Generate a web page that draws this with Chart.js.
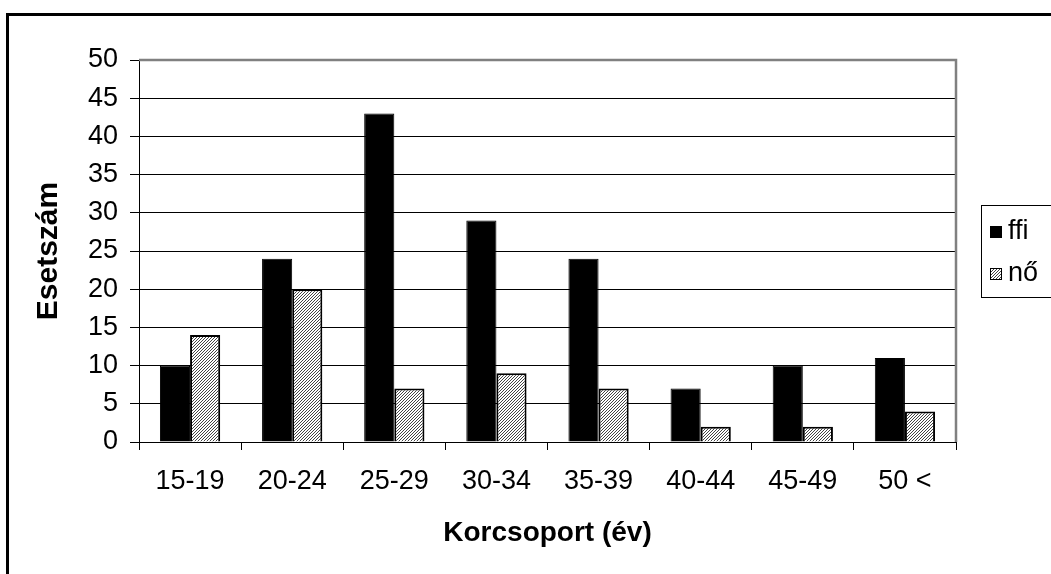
<!DOCTYPE html>
<html>
<head>
<meta charset="utf-8">
<script src="https://cdn.jsdelivr.net/npm/chart.js@4.4.1/dist/chart.umd.min.js"></script>
<style>
  html, body { margin: 0; padding: 0; background: #fff; overflow: hidden; }
  #frame { position: absolute; left: 6px; top: 13px; width: 1100px; height: 620px;
           border-left: 3px solid #000; border-top: 3px solid #000; }
  #wrap { position: absolute; left: 0; top: 0; width: 1051px; height: 574px; }
</style>
</head>
<body>
<div id="frame"></div>
<div id="wrap"><canvas id="chart" width="1051" height="574"></canvas></div>
<script>
// dados
const korcsoport = ['15-19', '20-24', '25-29', '30-34', '35-39', '40-44', '45-49', '50 <'];
const ffi = [10, 24, 43, 29, 24, 7, 10, 11];
const no = [14, 20, 7, 9, 7, 2, 2, 4];
const yTicks = [0, 5, 10, 15, 20, 25, 30, 35, 40, 45, 50];

const FONT = "'Liberation Sans', Arial, sans-serif";

// padrão hachurado para "nő"
function hatch() {
    const c = document.createElement('canvas');
    c.width = 3; c.height = 3;
    const g = c.getContext('2d');
    g.fillStyle = '#fff';
    g.fillRect(0, 0, 3, 3);
    g.fillStyle = '#444';
    for (let i = 0; i < 3; i++) g.fillRect(i, 2 - i, 1, 1);
    return g.createPattern(c, 'repeat');
}
const hatchFill = hatch();

// moldura cinza da área do gráfico + legenda
const extras = {
    id: 'extras',
    afterDraw(chart) {
        const ctx = chart.ctx;
        const a = chart.chartArea;
        ctx.save();
        ctx.strokeStyle = '#808080';
        ctx.lineWidth = 2.5;
        ctx.beginPath();
        ctx.moveTo(a.left, a.top);
        ctx.lineTo(a.right, a.top);
        ctx.lineTo(a.right, a.bottom);
        ctx.stroke();

        // legenda
        ctx.strokeStyle = '#000';
        ctx.lineWidth = 1;
        ctx.strokeRect(981.5, 205.5, 110, 92);
        ctx.font = '27px ' + FONT;
        ctx.textBaseline = 'middle';
        ctx.textAlign = 'left';
        const ys = [232, 274];
        chart.data.datasets.forEach((ds, i) => {
            ctx.fillStyle = ds.backgroundColor;
            ctx.fillRect(990, ys[i] - 6, 12, 12);
            ctx.strokeStyle = '#000';
            ctx.strokeRect(990.5, ys[i] - 5.5, 11, 11);
            ctx.fillStyle = '#000';
            ctx.fillText(ds.label, 1008, ys[i]);
        });
        ctx.restore();
    }
};

const ctx = document.getElementById('chart').getContext('2d');
const chart = new Chart(ctx, {
    type: 'bar',
    data: {
        labels: korcsoport,
        datasets: [{
            label: 'ffi',
            data: ffi,
            backgroundColor: '#000',
            borderColor: '#000',
            borderWidth: 1,
            categoryPercentage: 0.59,
            barPercentage: 1
        }, {
            label: 'nő',
            data: no,
            backgroundColor: hatchFill,
            borderColor: '#000',
            borderWidth: 2,
            categoryPercentage: 0.59,
            barPercentage: 1
        }]
    },
    options: {
        responsive: false,
        animation: false,
        layout: { padding: { top: 60, right: 95, left: 0, bottom: 0 } },
        plugins: {
            legend: { display: false },
            tooltip: { enabled: false }
        },
        scales: {
            x: {
                grid: { drawOnChartArea: false, offset: true, tickLength: 8, color: '#000', tickColor: '#000' },
                border: { color: '#000', width: 1 },
                ticks: { font: { family: FONT, size: 27 }, color: '#000', padding: 15, maxRotation: 0 },
                title: {
                    display: true, text: 'Korcsoport (év)', color: '#000',
                    font: { family: FONT, size: 28, weight: 'bold' },
                    padding: { top: 0, bottom: 24 }
                },
                afterFit(s) { s.height = 132; }
            },
            y: {
                min: 0,
                max: 50,
                afterBuildTicks(s) { s.ticks = yTicks.map(v => ({ value: v })); },
                ticks: { font: { family: FONT, size: 27 }, color: '#000', padding: 12 },
                grid: {
                    color: c => (c.tick && c.tick.value === 50) ? '#808080' : '#000',
                    tickColor: '#000',
                    tickLength: 9
                },
                border: { color: '#000', width: 1 },
                title: {
                    display: true, text: 'Esetszám', color: '#000',
                    font: { family: FONT, size: 30, weight: 'bold' },
                    padding: { top: 31, bottom: 0 }
                },
                afterFit(s) { s.width = 139; }
            }
        }
    },
    plugins: [extras]
});
</script>
</body>
</html>
